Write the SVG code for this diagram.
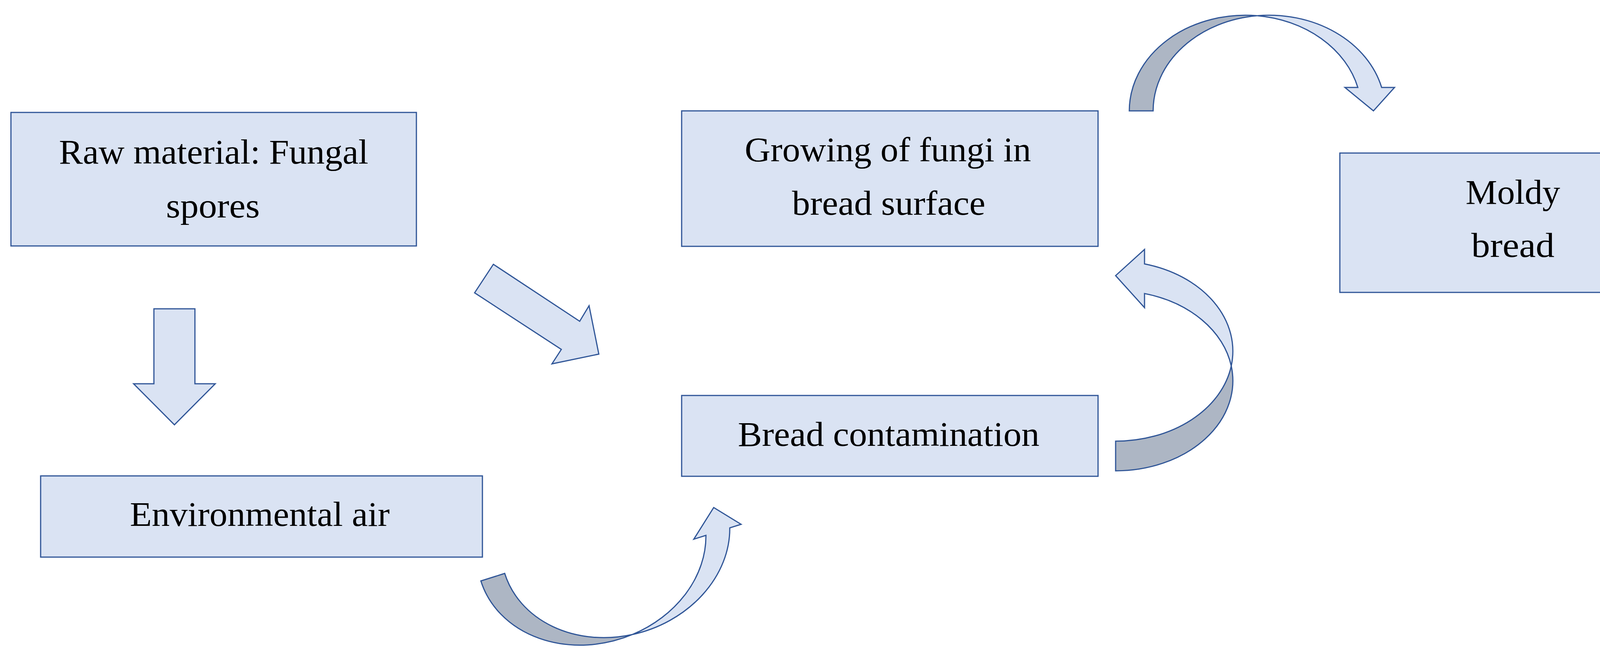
<svg xmlns="http://www.w3.org/2000/svg" width="4360" height="1688" viewBox="0 0 4360 1688">
<style>
.box{fill:#DAE3F3;stroke:#2F5597;stroke-width:3}
.lbl{font-family:"Liberation Serif","DejaVu Serif",serif;font-size:88px;fill:#000;text-anchor:middle}
.arr{fill:#DAE3F3;stroke:#2F5597;stroke-width:3;stroke-linejoin:miter}
.back{fill:#ADB6C4;stroke:#2F5597;stroke-width:3;stroke-linejoin:miter}
</style>
<rect width="4360" height="1688" fill="#FFFFFF"/>
<g id="node-raw">
<rect class="box" x="28" y="288" width="1038" height="342"/>
<text class="lbl" x="547" y="419" textLength="792" lengthAdjust="spacingAndGlyphs">Raw material: Fungal</text>
<text class="lbl" x="545" y="557" textLength="240" lengthAdjust="spacingAndGlyphs">spores</text>
</g>
<g id="node-env">
<rect class="box" x="104" y="1219" width="1131" height="208"/>
<text class="lbl" x="665" y="1347" textLength="665" lengthAdjust="spacingAndGlyphs">Environmental air</text>
</g>
<g id="node-growing">
<rect class="box" x="1745" y="284" width="1066" height="347"/>
<text class="lbl" x="2273" y="413" textLength="733" lengthAdjust="spacingAndGlyphs">Growing of fungi in</text>
<text class="lbl" x="2275" y="550" textLength="495" lengthAdjust="spacingAndGlyphs">bread surface</text>
</g>
<g id="node-bread">
<rect class="box" x="1745" y="1013" width="1066" height="207"/>
<text class="lbl" x="2275" y="1142" textLength="772" lengthAdjust="spacingAndGlyphs">Bread contamination</text>
</g>
<g id="node-moldy">
<rect class="box" x="3430" y="392" width="894" height="357"/>
<text class="lbl" x="3873" y="522" textLength="242" lengthAdjust="spacingAndGlyphs">Moldy</text>
<text class="lbl" x="3873" y="658" textLength="213" lengthAdjust="spacingAndGlyphs">bread</text>
</g>
<g id="connectors">
<path id="arrow-down" class="arr" d="M394,791 H499 V983 H551 L446.5,1088 L342,983 H394 Z"/>
<path id="arrow-diag" class="arr" d="M1263,677 L1484,823 L1508,783 L1533,907 L1413,932 L1437,895 L1215,750 Z"/>
<g id="arrow-curved-up" transform="translate(1231,1488) rotate(-17.5)">
<path class="back" d="M0,0 A297,249 0 0 0 329,247.6 A297,249 0 0 1 64,0 Z"/>
<path class="arr" d="M329,247.6 A297,249 0 0 0 648.6,62 L679,62 L625,0 L552,62 L584.6,62 A297,249 0 0 1 329,247.6 Z"/>
</g>
<g id="arrow-curved-left">
<path class="back" d="M2856,1206 A300,230.6 0 0 0 3152,937.4 A300,230.6 0 0 1 2856,1130 Z"/>
<path class="arr" d="M3152,937.4 A300,230.6 0 0 0 2930,676 L2930,639 L2856,706 L2930,788 L2930,751.9 A300,230.6 0 0 1 3152,937.4 Z"/>
</g>
<g id="arrow-curved-down">
<path class="back" d="M2891,284 A297,245 0 0 1 3218.5,40.3 A297,245 0 0 0 2952,284 Z"/>
<path class="arr" d="M3218.5,40.3 A297,245 0 0 1 3537,224 L3570,224 L3516,284 L3443,224 L3476,224 A297,245 0 0 0 3218.5,40.3 Z"/>
</g>
</g>
</svg>
